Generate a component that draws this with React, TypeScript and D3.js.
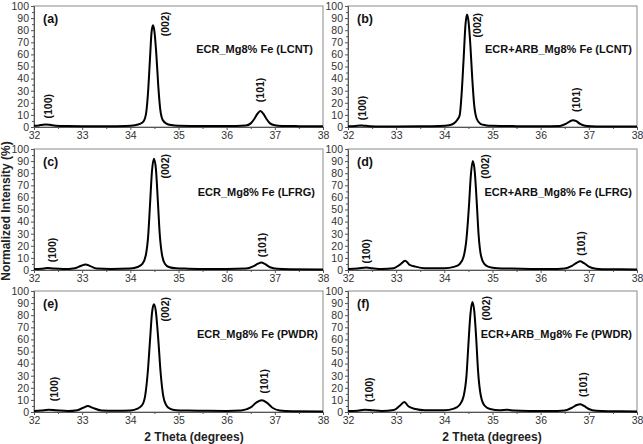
import React, {useEffect, useRef} from 'react';
import * as d3 from 'd3';

// 2-theta sample points and normalized intensity for each pattern
const xA = [32.0, 32.1, 32.18, 32.25, 32.33, 32.45, 32.7, 33.0, 33.5, 33.9, 34.1, 34.2, 34.28, 34.33, 34.37, 34.41, 34.44, 34.47, 34.5, 34.54, 34.58, 34.62, 34.67, 34.75, 34.85, 35.0, 35.5, 36.0, 36.4, 36.5, 36.58, 36.64, 36.7, 36.76, 36.82, 36.9, 37.0, 37.15, 37.5, 38.0];
const yA = [1.0, 1.3, 1.9, 2.1, 1.8, 1.1, 0.8, 0.7, 0.7, 0.9, 1.5, 2.5, 5, 12, 30, 58, 78, 84, 79, 60, 34, 15, 6, 2.8, 1.6, 1.1, 0.8, 0.8, 1.3, 3, 7, 11, 13.2, 11, 7, 3, 1.4, 0.9, 0.7, 0.6];

const xB = [32.0, 32.15, 32.25, 32.32, 32.45, 32.7, 33.0, 33.5, 33.9, 34.1, 34.2, 34.27, 34.32, 34.36, 34.4, 34.44, 34.47, 34.5, 34.54, 34.58, 34.62, 34.67, 34.75, 34.85, 35.0, 35.5, 36.0, 36.4, 36.52, 36.6, 36.67, 36.74, 36.82, 36.92, 37.05, 37.3, 38.0];
const yB = [0.6, 0.9, 1.3, 1.1, 0.7, 0.5, 0.5, 0.6, 0.9, 1.5, 3, 6, 10, 28, 56, 85, 93, 88, 68, 40, 18, 7, 2.6, 1.5, 1.0, 0.7, 0.6, 0.9, 2.5, 4.5, 5.6, 4.8, 2.5, 1.1, 0.7, 0.5, 0.4];

const xC = [32.0, 32.15, 32.28, 32.4, 32.6, 32.85, 32.97, 33.07, 33.17, 33.3, 33.6, 34.0, 34.15, 34.25, 34.32, 34.37, 34.41, 34.45, 34.49, 34.53, 34.57, 34.61, 34.66, 34.72, 34.8, 34.95, 35.2, 35.6, 36.0, 36.4, 36.55, 36.65, 36.72, 36.8, 36.9, 37.05, 37.3, 38.0];
const yC = [0.8, 1.1, 1.6, 1.2, 0.8, 1.5, 3.3, 4.6, 3.2, 1.3, 0.9, 1.3, 2.5, 5, 12, 28, 55, 82, 92, 84, 58, 30, 12, 5, 2.5, 1.4, 1.1, 0.9, 0.8, 1.2, 3, 5.2, 6.2, 4.8, 2.3, 1.0, 0.7, 0.5];

const xD = [32.0, 32.2, 32.38, 32.5, 32.7, 32.95, 33.08, 33.19, 33.28, 33.4, 33.6, 34.0, 34.2, 34.32, 34.4, 34.46, 34.51, 34.55, 34.59, 34.63, 34.67, 34.71, 34.76, 34.83, 34.92, 35.1, 35.4, 35.8, 36.2, 36.5, 36.65, 36.75, 36.82, 36.9, 37.0, 37.15, 37.4, 38.0];
const yD = [0.8, 1.2, 2.0, 1.5, 0.9, 1.5, 4.5, 7.6, 4.2, 2.8, 1.5, 1.4, 2.6, 5, 11, 26, 52, 78, 90, 82, 58, 30, 12, 5, 2.6, 1.5, 1.2, 0.9, 0.8, 1.3, 3.5, 6, 7.2, 5.6, 2.8, 1.1, 0.6, 0.5];

const xE = [32.0, 32.15, 32.3, 32.45, 32.7, 32.9, 33.02, 33.12, 33.22, 33.4, 33.7, 34.0, 34.15, 34.25, 34.31, 34.36, 34.41, 34.45, 34.49, 34.53, 34.58, 34.63, 34.68, 34.74, 34.82, 34.95, 35.2, 35.6, 36.0, 36.3, 36.5, 36.62, 36.73, 36.84, 36.95, 37.1, 37.35, 38.0];
const yE = [0.8, 1.2, 1.8, 1.4, 0.8, 1.5, 3.5, 5.0, 3.4, 1.3, 1.0, 1.3, 2.8, 6, 14, 32, 60, 82, 89, 83, 60, 32, 14, 6, 2.8, 1.5, 1.2, 1.0, 0.9, 1.3, 3.8, 8, 9.8, 7.5, 3.5, 1.3, 0.7, 0.5];

const xF = [32.0, 32.2, 32.35, 32.5, 32.7, 32.95, 33.07, 33.17, 33.26, 33.4, 33.6, 34.0, 34.2, 34.32, 34.4, 34.46, 34.5, 34.54, 34.58, 34.62, 34.66, 34.7, 34.76, 34.84, 34.95, 35.15, 35.3, 35.45, 35.8, 36.2, 36.5, 36.65, 36.75, 36.82, 36.9, 37.0, 37.15, 37.4, 38.0];
const yF = [0.8, 1.1, 1.8, 1.4, 0.9, 1.6, 5, 8.2, 4.5, 2.5, 1.5, 1.4, 2.8, 6, 13, 30, 56, 80, 91, 84, 62, 34, 13, 5, 2.5, 1.5, 1.8, 1.2, 0.9, 0.8, 1.3, 3.5, 5.8, 6.5, 5, 2.5, 1.0, 0.6, 0.5];

const panelTags = ['(a)', '(b)', '(c)', '(d)', '(e)', '(f)'];
const sampleNames = [
  'ECR_Mg8% Fe (LCNT)', 'ECR+ARB_Mg8% Fe (LCNT)',
  'ECR_Mg8% Fe (LFRG)', 'ECR+ARB_Mg8% Fe (LFRG)',
  'ECR_Mg8% Fe (PWDR)', 'ECR+ARB_Mg8% Fe (PWDR)'
];
const reflections = ['(100)', '(002)', '(101)'];
// where each reflection label sits: [2theta, intensity at text start]
const labelSpots = [
  [[32.3, 7], [34.72, 75], [36.7, 20.5]],
  [[32.3, 5.5], [34.68, 74], [36.75, 12.4]],
  [[32.39, 6.4], [34.73, 75.6], [36.73, 10.5]],
  [[32.39, 5.3], [34.86, 75.5], [36.85, 11.7]],
  [[32.43, 8.9], [34.72, 74.8], [36.79, 15.2]],
  [[32.45, 8.3], [34.88, 75.6], [36.88, 12.5]]
];
const xTicks = [32, 33, 34, 35, 36, 37, 38];
const yTicks = [0, 10, 20, 30, 40, 50, 60, 70, 80, 90, 100];

const App = () => {
  const ref = useRef<SVGSVGElement>(null);

  useEffect(() => {
    const svg = d3.select(ref.current);
    svg.selectAll('*').remove();

    const font = "Arial, 'Liberation Sans', sans-serif";
    const xs = [xA, xB, xC, xD, xE, xF];
    const ys = [yA, yB, yC, yD, yE, yF];
    const lefts = [34, 348];
    const tops = [6, 149, 291];
    const w = 289;
    const h = 121;

    xs.forEach((xv, i) => {
      const left = lefts[i % 2];
      const top = tops[Math.floor(i / 2)];
      const x = d3.scaleLinear().domain([32, 38]).range([0, w]);
      const y = d3.scaleLinear().domain([0, 100]).range([h, 0]);
      const g = svg.append('g').attr('transform', `translate(${left},${top})`);

      // frame
      g.append('rect').attr('width', w).attr('height', h)
        .attr('fill', 'none').attr('stroke', '#8a8a8a').attr('stroke-width', 1);

      // y axis
      const yAxis = g.append('g').call(d3.axisLeft(y).tickValues(yTicks).tickSize(3).tickPadding(2));
      yAxis.select('.domain').attr('stroke', '#555');
      yAxis.selectAll('line').attr('stroke', '#555');
      yAxis.selectAll('text').attr('font-family', font).attr('font-size', 10.5).attr('fill', '#333');
      g.append('g').call(d3.axisLeft(y).tickValues(d3.range(5, 100, 10)).tickSize(2).tickFormat(() => ''))
        .call(a => a.select('.domain').remove())
        .selectAll('line').attr('stroke', '#555');

      // x axis
      const xAxis = g.append('g').attr('transform', `translate(0,${h})`)
        .call(d3.axisBottom(x).tickValues(xTicks).tickFormat(d3.format('d')).tickSize(3).tickPadding(2));
      xAxis.select('.domain').attr('stroke', '#555');
      xAxis.selectAll('line').attr('stroke', '#555');
      xAxis.selectAll('text').attr('font-family', font).attr('font-size', 10.5).attr('fill', '#333');
      g.append('g').attr('transform', `translate(0,${h})`)
        .call(d3.axisBottom(x).tickValues(d3.range(32.5, 38, 1)).tickSize(2).tickFormat(() => ''))
        .call(a => a.select('.domain').remove())
        .selectAll('line').attr('stroke', '#555');

      // pattern
      const line = d3.line<number>()
        .x(d => x(d))
        .y((d, k) => y(ys[i][k]))
        .curve(d3.curveMonotoneX);
      g.append('path').datum(xv).attr('d', line)
        .attr('fill', 'none').attr('stroke', '#000').attr('stroke-width', 2)
        .attr('stroke-linejoin', 'round');

      // panel tag + sample name
      g.append('text').attr('x', 9).attr('y', 17).text(panelTags[i])
        .attr('font-family', font).attr('font-size', 12.5).attr('font-weight', 'bold').attr('fill', '#111');
      g.append('text').attr('x', w - (i === 0 ? 10 : i === 2 ? 8 : 5)).attr('y', 47)
        .attr('text-anchor', 'end').text(sampleNames[i])
        .attr('font-family', font).attr('font-size', 11).attr('font-weight', 'bold').attr('fill', '#111');

      // reflection labels
      labelSpots[i].forEach((p, k) => {
        g.append('text')
          .attr('transform', `translate(${x(p[0])},${y(p[1])}) rotate(-90)`)
          .attr('dy', '0.35em')
          .text(reflections[k])
          .attr('font-family', font).attr('font-size', 10.5).attr('font-weight', 'bold').attr('fill', '#111');
      });
    });

    // shared axis titles
    svg.append('text').attr('x', 194).attr('y', 441).attr('text-anchor', 'middle')
      .text('2 Theta (degrees)')
      .attr('font-family', font).attr('font-size', 12).attr('font-weight', 'bold').attr('fill', '#222');
    svg.append('text').attr('x', 492).attr('y', 441).attr('text-anchor', 'middle')
      .text('2 Theta (degrees)')
      .attr('font-family', font).attr('font-size', 12).attr('font-weight', 'bold').attr('fill', '#222');
    svg.append('text').attr('transform', 'translate(10,211) rotate(-90)')
      .attr('text-anchor', 'middle')
      .text('Normalized Intensity (%)')
      .attr('font-family', font).attr('font-size', 12).attr('font-weight', 'bold').attr('fill', '#222');
  }, []);

  return (
    <svg ref={ref} width={643} height={444}
      style={{position: 'absolute', left: 0, top: 0, background: '#fff'}} />
  );
};

export default App;
